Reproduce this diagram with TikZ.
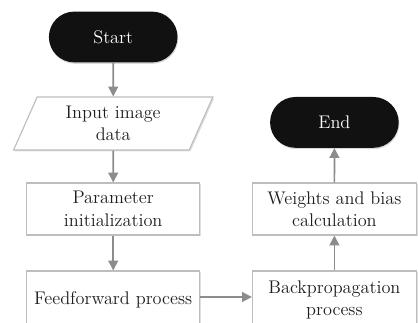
\documentclass[tikz,border=0pt]{standalone}
\usepackage{tikz}
\usetikzlibrary{arrows.meta, positioning, shapes.geometric, shapes.misc, shadows}
\usepackage{xcolor}
\definecolor{boxline}{HTML}{BDBDBD}
\definecolor{arrowgray}{HTML}{8C8C8C}
\definecolor{termfill}{HTML}{111111}
\definecolor{txtgray}{HTML}{1E1E1E}

\begin{document}
\begin{tikzpicture}[
  terminal/.style={rounded rectangle, fill=termfill, text=white, minimum width=3.45cm, minimum height=1.27cm, font=\fontsize{13}{16}\selectfont,
    drop shadow={opacity=0.3, shadow xshift=0.5pt, shadow yshift=-1pt}},
  procbox/.style={draw=boxline, line width=0.8pt, fill=white, minimum height=1.3cm, align=center, text=txtgray, font=\fontsize{13}{16}\selectfont,
    drop shadow={opacity=0.25, shadow xshift=1pt, shadow yshift=-1pt}},
  flow/.style={-{Triangle[length=7pt, width=7pt]}, arrowgray, line width=1.2pt}
]
\useasboundingbox (0,0) rectangle (10.45,8.05);

% left column
\node[terminal] (start) at (2.83,7.125) {Start};
\node[procbox, trapezium, trapezium left angle=70, trapezium right angle=110, trapezium stretches=true, minimum width=5.025cm, minimum height=1.325cm] (input) at (2.83,4.9625) {Input image\\data};
\node[procbox, minimum width=4.33cm] (param) at (2.83,2.825) {Parameter\\initialization};
\node[procbox, minimum width=4.33cm, minimum height=1.45cm] (ffwd) at (2.83,0.55) {Feedforward process};

% right column
\node[procbox, minimum width=4.1cm, minimum height=1.45cm] (backprop) at (8.36,0.55) {Backpropagation\\process};
\node[procbox, minimum width=4.1cm] (weights) at (8.36,2.825) {Weights and bias\\calculation};
\node[terminal] (end) at (8.36,4.99) {End};

\draw[flow] (start) -- (input);
\draw[flow] (input) -- (param);
\draw[flow] (param) -- (ffwd);
\draw[flow] (ffwd.east |- 0,0.625) -- (backprop.west |- 0,0.625);
\draw[flow] (backprop) -- (weights);
\draw[flow] (weights) -- (end);
\end{tikzpicture}
\end{document}
